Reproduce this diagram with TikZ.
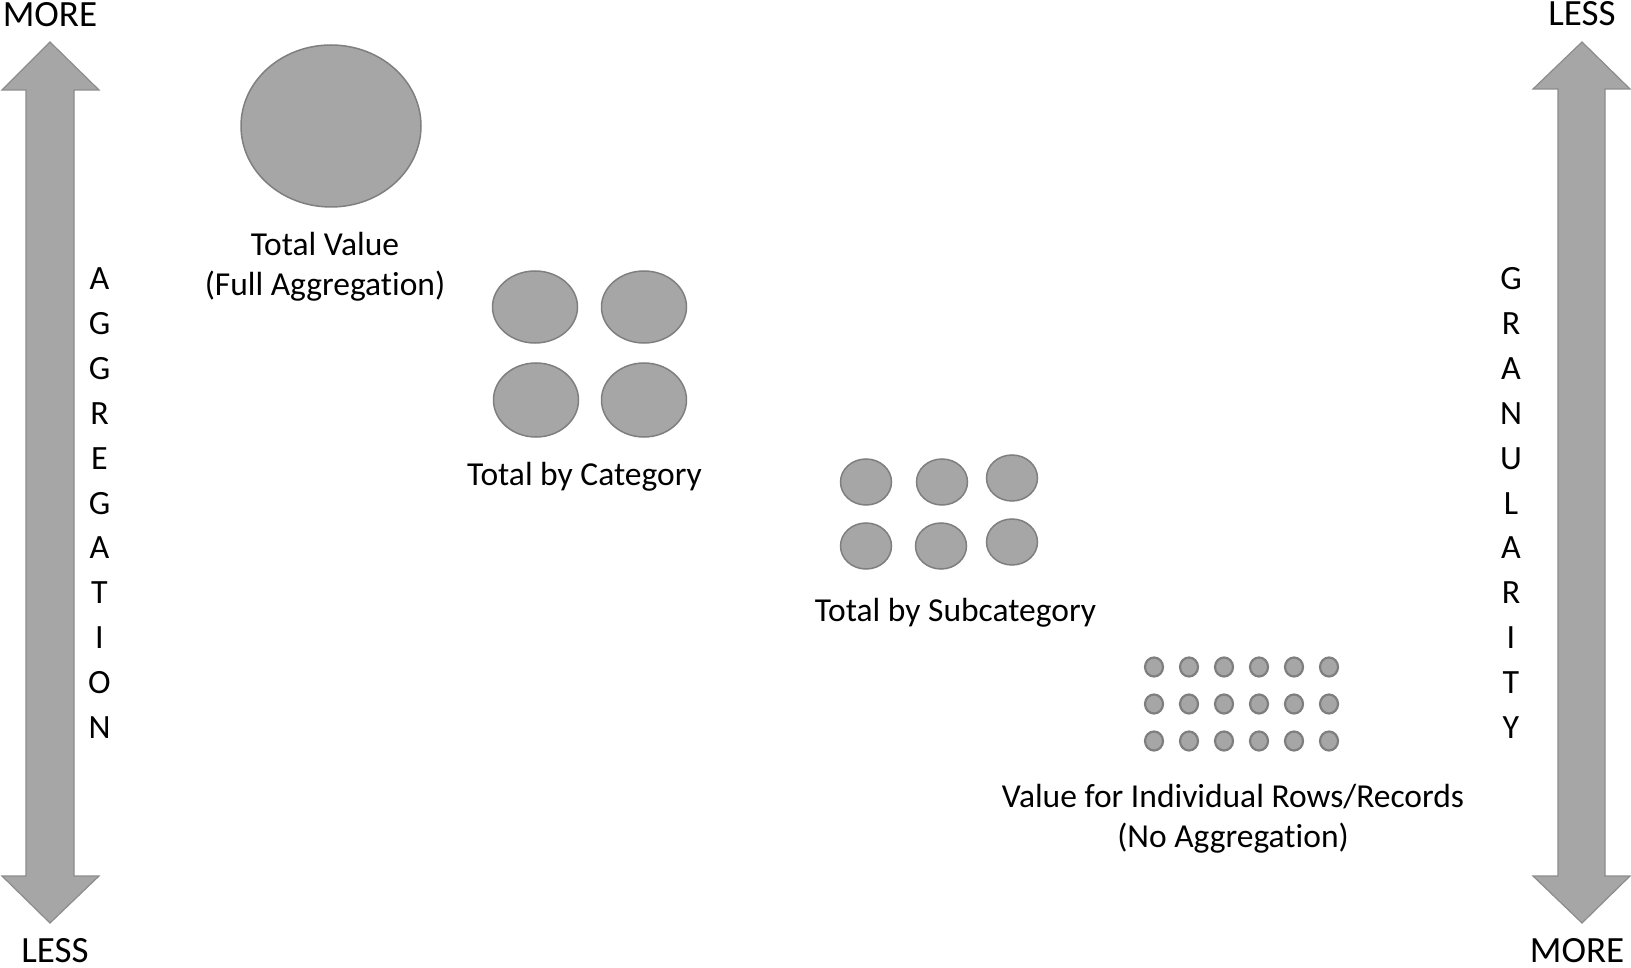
\documentclass[tikz,border=0pt]{standalone}
\usepackage{fontspec}
\setmainfont[Ligatures=NoCommon]{Carlito}
\usetikzlibrary{shapes.geometric}
\definecolor{blobfill}{HTML}{A6A6A6}
\definecolor{blobline}{HTML}{7F7F7F}
\definecolor{arrline}{HTML}{8C8C8C}
\tikzset{
  blob/.style={ellipse, fill=blobfill, draw=blobline, line width=1.5pt, inner sep=0pt},
  dot/.style={ellipse, fill=blobfill, draw=blobline, line width=2.2pt, inner sep=0pt, minimum width=18pt, minimum height=19pt},
  bigarrow/.style={fill=blobfill, draw=arrline, line width=1.2pt},
  lbl/.style={font=\fontsize{33.5}{40}\selectfont, inner sep=0pt, align=center, anchor=base},
  endlbl/.style={font=\fontsize{37}{40}\selectfont, inner sep=0pt, anchor=base},
  vlbl/.style={font=\fontsize{34}{40}\selectfont, inner sep=0pt, anchor=base}
}
\begin{document}
\begin{tikzpicture}[x=1pt,y=-1pt]
\useasboundingbox (0,0) rectangle (1631,968);
% left double arrow
\draw[bigarrow] (50,42) -- (99,90) -- (74,90) -- (74,876) -- (99,876) -- (50,923)
  -- (2,876) -- (26,876) -- (26,90) -- (2,90) -- cycle;
% right double arrow
\draw[bigarrow] (1582,42) -- (1630,89) -- (1605,89) -- (1605,876) -- (1630,876) -- (1582,923)
  -- (1533,876) -- (1558,876) -- (1558,89) -- (1533,89) -- cycle;
% end labels
\node[endlbl] (lmore) at (50,27) {MORE};
\node[endlbl] (lless) at (55,962) {LESS};
\node[endlbl] (rless) at (1582,26) {LESS};
\node[endlbl] (rmore) at (1577,962) {MORE};
% vertical words
\foreach \ch [count=\i from 0] in {A,G,G,R,E,G,A,T,I,O,N}
  \node[vlbl] (agg\i) at (99.5,{289.5+44.9*\i}) {\ch};
\foreach \ch [count=\i from 0] in {G,R,A,N,U,L,A,R,I,T,Y}
  \node[vlbl] (gran\i) at (1511,{289.5+44.9*\i}) {\ch};
% total value
\node[blob, minimum width=180pt, minimum height=162pt] (total) at (331,126) {};
\node[lbl] (ltotal) at (325,296) {Total Value\\(Full Aggregation)};
% by category
\node[blob, minimum width=85pt, minimum height=72pt] (cat1) at (535,307) {};
\node[blob, minimum width=85pt, minimum height=72pt] (cat2) at (644,307) {};
\node[blob, minimum width=85pt, minimum height=74pt] (cat3) at (536,400) {};
\node[blob, minimum width=85pt, minimum height=74pt] (cat4) at (644,400) {};
\node[lbl] (lcat) at (584.5,485) {Total by Category};
% by subcategory
\node[blob, minimum width=51pt, minimum height=46pt] (sub1) at (866,482) {};
\node[blob, minimum width=51pt, minimum height=46pt] (sub2) at (942,482) {};
\node[blob, minimum width=51pt, minimum height=46pt] (sub3) at (1012,478) {};
\node[blob, minimum width=51pt, minimum height=46pt] (sub4) at (866,546) {};
\node[blob, minimum width=51pt, minimum height=46pt] (sub5) at (941,546) {};
\node[blob, minimum width=51pt, minimum height=46pt] (sub6) at (1012,542) {};
\node[lbl] (lsub) at (955.5,621) {Total by Subcategory};
% individual rows
\foreach \r [count=\ri] in {667,704,741}
  \foreach \c [count=\ci] in {1154,1189,1224,1259,1294,1329}
    \node[dot] (d\ri-\ci) at (\c,\r) {};
\node[lbl] (lrows) at (1233,847) {Value for Individual Rows/Records\\(No Aggregation)};
\end{tikzpicture}
\end{document}
